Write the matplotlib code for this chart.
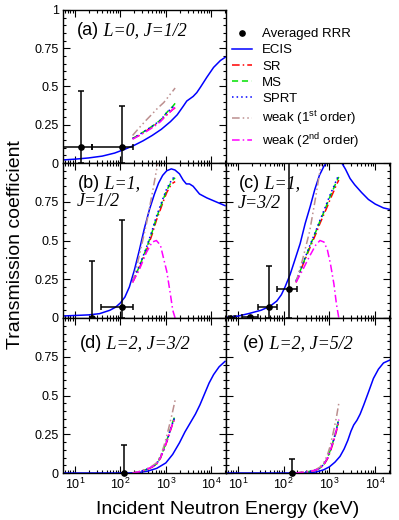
import numpy as np
import matplotlib
matplotlib.use("Agg")
import matplotlib.pyplot as plt
from matplotlib.lines import Line2D
from matplotlib.ticker import LogLocator, NullFormatter, MultipleLocator, FixedLocator

plt.rcParams['font.family'] = ['Liberation Sans', 'DejaVu Sans']
plt.rcParams['mathtext.fontset'] = 'custom'
plt.rcParams['mathtext.rm'] = 'Liberation Sans'
plt.rcParams['mathtext.it'] = 'Liberation Sans:italic'

# energy grid (keV) of the SR / MS / SPRT / weak-coupling curves
theory_e = [186, 260, 370, 500, 620, 760, 900, 1050, 1250, 1420, 1600]

# (a) L=0, J=1/2
ecis_a_e = [5.5, 10, 20, 40, 75, 126, 200, 316, 501, 794, 1259, 1778, 2399, 2884, 3388, 3981, 4786, 5754, 7943, 11220, 15849, 20000]
ecis_a_t = [0.02, 0.025, 0.033, 0.045, 0.065, 0.09, 0.115, 0.145, 0.18, 0.22, 0.27, 0.315, 0.37, 0.405, 0.42, 0.435, 0.46, 0.495, 0.56, 0.625, 0.67, 0.69]
sr_a = [0.16, 0.18, 0.21, 0.235, 0.255, 0.275, 0.295, 0.315, 0.335, 0.35, 0.36]
ms_a = [0.16, 0.185, 0.215, 0.24, 0.26, 0.28, 0.305, 0.33, 0.355, 0.37, 0.39]
sprt_a = [0.16, 0.185, 0.215, 0.24, 0.26, 0.28, 0.305, 0.33, 0.35, 0.365, 0.38]
weak1_a = [0.18, 0.23, 0.28, 0.32, 0.35, 0.375, 0.395, 0.42, 0.45, 0.47, 0.49]
weak2_a = [0.155, 0.18, 0.205, 0.23, 0.25, 0.27, 0.295, 0.315, 0.335, 0.35, 0.365]
rrr_a_e = [14, 107]
rrr_a_t = [0.105, 0.105]
rrr_a_elo = [5.5, 24]
rrr_a_ehi = [24, 186]
rrr_a_tlo = [0.0, 0.0]
rrr_a_thi = [0.47, 0.37]

# (b) L=1, J=1/2
ecis_b_e = [5.5, 20, 35, 59, 79, 100, 126, 158, 204, 263, 339, 437, 562, 692, 851, 1047, 1318, 1585, 1995, 2399, 2818, 3311, 3981, 5495, 7943, 12589, 19953]
ecis_b_t = [0.013, 0.02, 0.028, 0.05, 0.07, 0.097, 0.135, 0.20, 0.31, 0.44, 0.58, 0.70, 0.80, 0.87, 0.92, 0.95, 0.962, 0.955, 0.93, 0.89, 0.865, 0.865, 0.85, 0.80, 0.775, 0.75, 0.725]
sr_b = [0.23, 0.32, 0.43, 0.54, 0.63, 0.70, 0.76, 0.81, 0.85, 0.87, 0.88]
ms_b = [0.235, 0.33, 0.445, 0.555, 0.645, 0.715, 0.775, 0.825, 0.865, 0.89, 0.905]
sprt_b = [0.24, 0.335, 0.45, 0.565, 0.655, 0.725, 0.785, 0.835, 0.875, 0.90, 0.915]
weak1_b = [0.23, 0.40, 0.60, 0.80, 0.95, 1.10, 1.22, 1.33, 1.45, 1.53, 1.60]
weak2_b = [0.23, 0.31, 0.42, 0.49, 0.50, 0.47, 0.38, 0.30, 0.16, 0.05, 0.0]
rrr_b_e = [23.5, 110]
rrr_b_t = [0.0, 0.073]
rrr_b_elo = [23.5, 37]
rrr_b_ehi = [23.5, 186]
rrr_b_tlo = [0.0, 0.0]
rrr_b_thi = [0.37, 0.635]

# (c) L=1, J=3/2
ecis_c_e = [5.5, 10, 18, 32, 50, 71, 89, 107, 138, 178, 229, 295, 380, 479, 603, 759, 955, 1318, 1778, 2239, 2818, 3548, 5012, 7079, 10000, 15136, 21380]
ecis_c_t = [0.005, 0.012, 0.03, 0.05, 0.075, 0.11, 0.15, 0.20, 0.28, 0.38, 0.48, 0.61, 0.72, 0.83, 0.92, 0.98, 1.02, 1.03, 1.01, 0.96, 0.90, 0.86, 0.81, 0.765, 0.735, 0.71, 0.70]
sr_c = [0.23, 0.34, 0.45, 0.54, 0.61, 0.67, 0.72, 0.77, 0.82, 0.86, 0.89]
ms_c = [0.235, 0.345, 0.46, 0.555, 0.625, 0.685, 0.74, 0.79, 0.84, 0.88, 0.91]
sprt_c = [0.24, 0.35, 0.465, 0.56, 0.63, 0.695, 0.75, 0.80, 0.85, 0.89, 0.925]
weak1_c = [0.23, 0.38, 0.56, 0.78, 0.95, 1.10, 1.20, 1.30, 1.40, 1.50, 1.60]
weak2_c = [0.23, 0.31, 0.40, 0.47, 0.50, 0.49, 0.44, 0.35, 0.22, 0.09, 0.0]
rrr_c_e = [6.7, 18, 48, 132]
rrr_c_t = [0.0, 0.005, 0.07, 0.19]
rrr_c_elo = [5.5, 12, 27.5, 71]
rrr_c_ehi = [8.5, 27.5, 71, 195]
rrr_c_tlo = [0.0, 0.0, 0.0, 0.0]
rrr_c_thi = [0.0, 0.005, 0.335, 1.2]

# (d) L=2, J=3/2
ecis_d_e = [5.5, 158, 251, 398, 631, 1000, 1413, 1995, 2630, 3548, 4467, 5623, 7079, 8913, 11220, 14791, 19953]
ecis_d_t = [0.0, 0.0, 0.003, 0.012, 0.03, 0.065, 0.12, 0.195, 0.265, 0.33, 0.38, 0.44, 0.51, 0.58, 0.635, 0.685, 0.72]
sr_d = [0.0, 0.008, 0.02, 0.038, 0.055, 0.095, 0.15, 0.20, 0.27, 0.32, 0.355]
ms_d = [0.0, 0.008, 0.022, 0.04, 0.058, 0.10, 0.155, 0.21, 0.28, 0.33, 0.37]
sprt_d = [0.0, 0.008, 0.022, 0.04, 0.057, 0.098, 0.152, 0.205, 0.275, 0.325, 0.365]
weak1_d = [0.0, 0.01, 0.025, 0.045, 0.065, 0.11, 0.17, 0.24, 0.33, 0.40, 0.47]
weak2_d = [0.0, 0.008, 0.022, 0.04, 0.057, 0.097, 0.15, 0.205, 0.275, 0.32, 0.36]
rrr_d_e = [118]
rrr_d_t = [0.0]
rrr_d_thi = [0.18]

# (e) L=2, J=5/2
ecis_e_e = [5.5, 316, 501, 741, 1000, 1318, 1698, 2089, 2512, 2951, 3388, 3981, 4677, 5623, 7079, 9120, 11749, 15136, 21380]
ecis_e_t = [0.0, 0.0, 0.006, 0.02, 0.04, 0.07, 0.107, 0.155, 0.21, 0.27, 0.31, 0.34, 0.38, 0.44, 0.52, 0.61, 0.67, 0.71, 0.73]
sr_e = [0.0, 0.004, 0.01, 0.018, 0.03, 0.055, 0.09, 0.14, 0.21, 0.27, 0.33]
ms_e = [0.0, 0.004, 0.01, 0.019, 0.032, 0.058, 0.095, 0.15, 0.22, 0.285, 0.35]
sprt_e = [0.0, 0.004, 0.01, 0.019, 0.031, 0.057, 0.094, 0.148, 0.218, 0.28, 0.345]
weak1_e = [0.0, 0.005, 0.012, 0.022, 0.038, 0.07, 0.115, 0.18, 0.28, 0.36, 0.45]
weak2_e = [0.0, 0.004, 0.01, 0.019, 0.031, 0.057, 0.094, 0.148, 0.218, 0.28, 0.345]
rrr_e_e = [152]
rrr_e_t = [0.0]
rrr_e_thi = [0.09]

BLUE = '#0000ff'
styles = {
    'ECIS': dict(color=BLUE, lw=1.1, ls='-'),
    'SR': dict(color='#ff0000', lw=1.1, ls=(0, (5, 2, 1, 2))),
    'MS': dict(color='#00e000', lw=1.1, ls=(0, (4, 2.5))),
    'SPRT': dict(color=BLUE, lw=1.1, ls=(0, (1, 2))),
    'weak1': dict(color='#bc8f8f', lw=1.1, ls=(0, (5, 2, 1, 2, 1, 2))),
    'weak2': dict(color='#ff00ff', lw=1.1, ls=(0, (5, 2, 1, 2))),
}

fig = plt.figure(figsize=(3.99, 5.20), dpi=100)


def px_axes(x0, y0, x1, y1):
    return fig.add_axes([x0 / 399, 1 - y1 / 520, (x1 - x0) / 399, (y1 - y0) / 520])


def setup(ax, ylabels, left, bottom):
    ax.set_xscale('log')
    ax.set_xlim(5.5, 21000)
    ax.set_ylim(0, 1)
    ax.xaxis.set_major_locator(LogLocator(base=10, numticks=10))
    ax.xaxis.set_minor_locator(LogLocator(base=10, subs=np.arange(2, 10), numticks=10))
    ax.xaxis.set_minor_formatter(NullFormatter())
    ax.yaxis.set_major_locator(FixedLocator([0, 0.25, 0.5, 0.75, 1]))
    ax.yaxis.set_minor_locator(MultipleLocator(0.05))
    ax.set_yticklabels(ylabels)
    ax.tick_params(which='both', direction='in', top=True, right=True, width=0.8,
                   labelsize=9, pad=3, labelleft=left, labelbottom=bottom)
    ax.tick_params(which='major', length=5)
    ax.tick_params(which='minor', length=2.5)
    for s in ax.spines.values():
        s.set_linewidth(1.0)


def curves(ax, ee, et, sr, ms, sprt, w1, w2):
    ax.plot(ee, et, **styles['ECIS'])
    ax.plot(theory_e, sr, **styles['SR'])
    ax.plot(theory_e, ms, **styles['MS'])
    ax.plot(theory_e, sprt, **styles['SPRT'])
    ax.plot(theory_e, w1, **styles['weak1'])
    ax.plot(theory_e, w2, **styles['weak2'])


def rrr(ax, e, t, thi, tlo=None, elo=None, ehi=None):
    e = np.array(e); t = np.array(t); thi = np.array(thi)
    tlo = np.zeros_like(t) if tlo is None else np.array(tlo)
    xerr = None
    if elo is not None:
        xerr = [e - np.array(elo), np.array(ehi) - e]
    ax.errorbar(e, t, xerr=xerr, yerr=[t - tlo, thi - t], fmt='none', ecolor='k',
                elinewidth=1.1, capsize=2.5, capthick=1.1, zorder=4)
    ax.plot(e, t, 'o', color='k', ms=3.8, clip_on=False, zorder=5)


def tag(ax, x, y, letter, rest, x2=None, y2=None, rest2=None):
    t = ax.text(x, y, letter, transform=ax.transAxes, fontsize=13, va='center', ha='left')
    ax.annotate(' ' + rest, xy=(1, 0), xycoords=t, va='bottom', ha='left', fontsize=13,
                family='Liberation Serif', style='italic')
    if rest2:
        ax.text(x2, y2, rest2, transform=ax.transAxes, fontsize=13, va='center', ha='left',
                family='Liberation Serif', style='italic')


ax_a = px_axes(63, 10, 226, 163)
ax_b = px_axes(63, 163, 226, 318)
ax_c = px_axes(226, 163, 390, 318)
ax_d = px_axes(63, 318, 226, 473)
ax_e = px_axes(226, 318, 390, 473)

full = ['0', '0.25', '0.5', '0.75', '1']
notop = ['0', '0.25', '0.5', '0.75', '']
setup(ax_a, full, True, False)
setup(ax_b, notop, True, False)
setup(ax_c, notop, False, False)
setup(ax_d, notop, True, True)
setup(ax_e, notop, False, True)

curves(ax_a, ecis_a_e, ecis_a_t, sr_a, ms_a, sprt_a, weak1_a, weak2_a)
curves(ax_b, ecis_b_e, ecis_b_t, sr_b, ms_b, sprt_b, weak1_b, weak2_b)
curves(ax_c, ecis_c_e, ecis_c_t, sr_c, ms_c, sprt_c, weak1_c, weak2_c)
curves(ax_d, ecis_d_e, ecis_d_t, sr_d, ms_d, sprt_d, weak1_d, weak2_d)
curves(ax_e, ecis_e_e, ecis_e_t, sr_e, ms_e, sprt_e, weak1_e, weak2_e)

rrr(ax_a, rrr_a_e, rrr_a_t, rrr_a_thi, rrr_a_tlo, rrr_a_elo, rrr_a_ehi)
rrr(ax_b, rrr_b_e, rrr_b_t, rrr_b_thi, rrr_b_tlo, rrr_b_elo, rrr_b_ehi)
rrr(ax_c, rrr_c_e, rrr_c_t, rrr_c_thi, rrr_c_tlo, rrr_c_elo, rrr_c_ehi)
rrr(ax_d, rrr_d_e, rrr_d_t, rrr_d_thi)
rrr(ax_e, rrr_e_e, rrr_e_t, rrr_e_thi)

tag(ax_a, 0.084, 0.863, '(a)', 'L=0, J=1/2')
tag(ax_b, 0.094, 0.869, '(b)', 'L=1,', 0.084, 0.75, 'J=1/2')
tag(ax_c, 0.081, 0.869, '(c)', 'L=1,', 0.071, 0.739, 'J=3/2')
tag(ax_d, 0.104, 0.837, '(d)', 'L=2, J=3/2')
tag(ax_e, 0.105, 0.837, '(e)', 'L=2, J=5/2')

handles = [Line2D([], [], ls='none', marker='o', color='k', ms=3.8)]
handles += [Line2D([], [], **styles[k]) for k in ['ECIS', 'SR', 'MS', 'SPRT', 'weak1', 'weak2']]
labels = ['Averaged RRR', 'ECIS', 'SR', 'MS', 'SPRT',
          r'weak (1$^{\mathregular{st}}$ order)', r'weak (2$^{\mathregular{nd}}$ order)']
fig.legend(handles, labels, loc='upper left', bbox_to_anchor=(232 / 399, 1 - 28 / 520),
           frameon=False, fontsize=9.5, handlelength=1.5, handletextpad=0.8,
           labelspacing=0.3, borderpad=0, borderaxespad=0)

fig.text(16 / 399, 1 - 245 / 520, 'Transmission coefficient', rotation=90, fontsize=14,
         va='center', ha='center')
fig.text(228 / 399, 1 - 509 / 520, 'Incident Neutron Energy (keV)', fontsize=14,
         va='center', ha='center')

fig.savefig('out.png', dpi=100)
